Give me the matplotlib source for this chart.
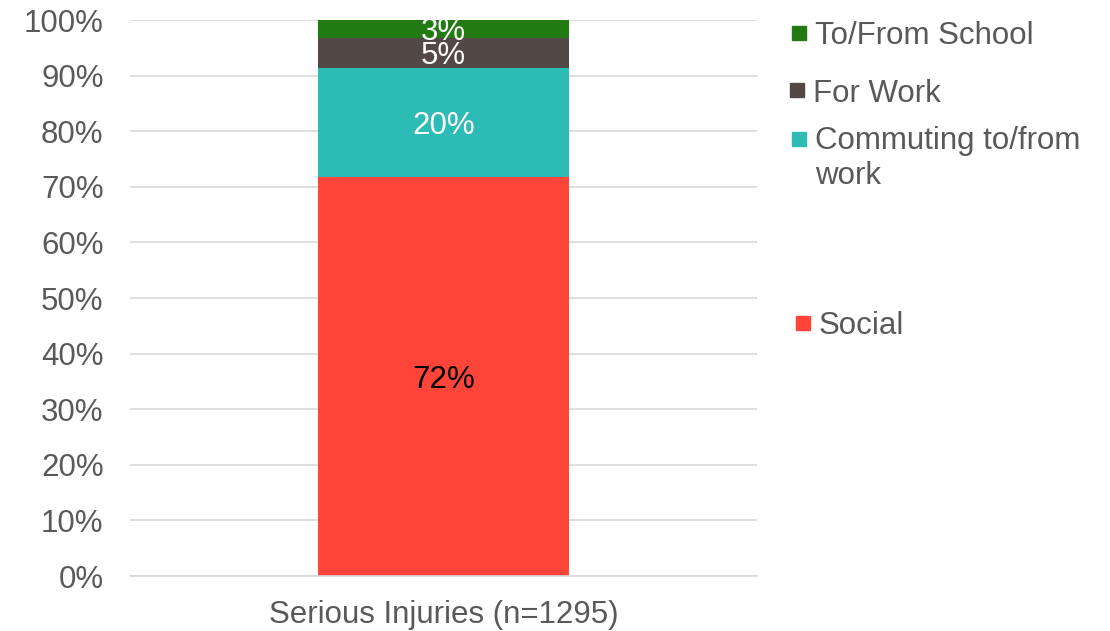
import numpy as np
import matplotlib.pyplot as plt
from matplotlib.patches import Rectangle

plt.rcParams['font.family'] = ['Liberation Sans', 'DejaVu Sans']

# data (share of serious injuries, %)
category = ["Serious Injuries (n=1295)"]
series_names = ["Social", "Commuting to/from\nwork", "For Work", "To/From School"]
series_values = [71.8, 19.6, 5.4, 3.2]
series_colors = ["#FF4539", "#2DBBB5", "#524845", "#227B12"]
label_colors = ["black", "white", "white", "white"]

FS = 22.5
fig = plt.figure(figsize=(11.1, 6.31), dpi=100)
ax = fig.add_axes([130 / 1110, 55 / 631, 627 / 1110, 556 / 631])

x = np.arange(len(category))
bottom = np.zeros(len(category))
for name, vals, col, lc in zip(series_names, series_values, series_colors, label_colors):
    v = np.array([vals])
    ax.bar(x, v, width=1.0, bottom=bottom, color=col, zorder=2)
    for xi, b, h in zip(x, bottom, v):
        ax.text(xi, b + h / 2, f"{h:.0f}%", ha='center', va='center_baseline',
                fontsize=FS, color=lc, zorder=3)
    bottom += v

ax.set_xlim(-1.25, 1.25)
ax.set_ylim(0, 100)
ax.set_yticks(np.arange(0, 101, 10))
ax.set_yticklabels([f"{t}%" for t in range(0, 101, 10)])
ax.set_xticks(x)
ax.set_xticklabels(category)
ax.tick_params(axis='both', length=0, labelsize=FS, labelcolor='#595959')
ax.tick_params(axis='y', pad=19)
ax.tick_params(axis='x', pad=17)
ax.yaxis.grid(True, color='#d9d9d9', linewidth=1.2, zorder=0)
ax.set_axisbelow(True)
for s in ['top', 'right', 'left']:
    ax.spines[s].set_visible(False)
ax.spines['bottom'].set_color('#d9d9d9')
ax.spines['bottom'].set_linewidth(1.2)

# legend placed like the original (entries at uneven heights)
leg_pos = {"To/From School": (792, 33), "For Work": (790, 90),
           "Commuting to/from\nwork": (792, 139), "Social": (796, 323)}
for name, col in zip(series_names, series_colors):
    px, py = leg_pos[name]
    fig.patches.append(Rectangle((px / 1110, (631 - py - 7) / 631), 14 / 1110, 14 / 631,
                                 transform=fig.transFigure, color=col))
    if '\n' in name:
        fig.text((px + 23) / 1110, (631 - py + 13) / 631, name, fontsize=FS,
                 color='#595959', va='top', ha='left', linespacing=1.2)
    else:
        fig.text((px + 23) / 1110, (631 - py) / 631, name, fontsize=FS,
                 color='#595959', va='center_baseline', ha='left')

plt.savefig("out.png", dpi=100)
